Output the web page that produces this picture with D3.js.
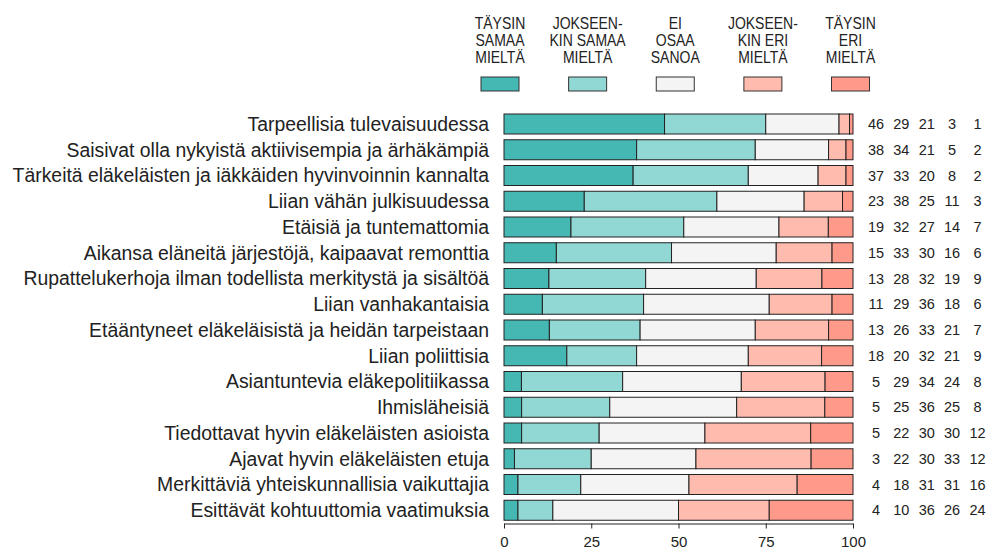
<!DOCTYPE html>
<html><head><meta charset="utf-8">
<script src="https://cdn.jsdelivr.net/npm/d3@7"></script>
<style>body{margin:0;background:#fff}svg{display:block}text{font-family:"Liberation Sans",Arial,sans-serif;fill:#222}</style>
</head><body>
<svg id="c" width="991" height="552"></svg>
<script>
const categories = [
 "Tarpeellisia tulevaisuudessa",
 "Saisivat olla nykyistä aktiivisempia ja ärhäkämpiä",
 "Tärkeitä eläkeläisten ja iäkkäiden hyvinvoinnin kannalta",
 "Liian vähän julkisuudessa",
 "Etäisiä ja tuntemattomia",
 "Aikansa eläneitä järjestöjä, kaipaavat remonttia",
 "Rupattelukerhoja ilman todellista merkitystä ja sisältöä",
 "Liian vanhakantaisia",
 "Etääntyneet eläkeläisistä ja heidän tarpeistaan",
 "Liian poliittisia",
 "Asiantuntevia eläkepolitiikassa",
 "Ihmisläheisiä",
 "Tiedottavat hyvin eläkeläisten asioista",
 "Ajavat hyvin eläkeläisten etuja",
 "Merkittäviä yhteiskunnallisia vaikuttajia",
 "Esittävät kohtuuttomia vaatimuksia"
];
const taysinSamaa   = [46,38,37,23,19,15,13,11,13,18,5,5,5,3,4,4];
const jokseenSamaa  = [29,34,33,38,32,33,28,29,26,20,29,25,22,22,18,10];
const eiOsaa        = [21,21,20,25,27,30,32,36,33,32,34,36,30,30,31,36];
const jokseenEri    = [3,5,8,11,14,16,19,18,21,21,24,25,30,33,31,26];
const taysinEri     = [1,2,2,3,7,6,9,6,7,9,8,8,12,12,16,24];
const series = [taysinSamaa, jokseenSamaa, eiOsaa, jokseenEri, taysinEri];
const legendLabels = [
 ["TÄYSIN","SAMAA","MIELTÄ"],
 ["JOKSEEN-","KIN SAMAA","MIELTÄ"],
 ["EI","OSAA","SANOA"],
 ["JOKSEEN-","KIN ERI","MIELTÄ"],
 ["TÄYSIN","ERI","MIELTÄ"]
];
const colors = ["#46b8b4","#91d7d3","#f4f4f4","#ffbbae","#ff998a"];
const ticks = [0,25,50,75,100];

const svg = d3.select("#c");
const x = d3.scaleLinear().domain([0,100]).range([504,853]);
const y = d3.scalePoint().domain(categories).range([124,510.25]);
const barH = 20;
const nx = d3.scalePoint().domain(d3.range(5)).range([876,977.5]);

categories.forEach((cat,i)=>{
  const vals = series.map(s=>s[i]);
  const total = d3.sum(vals);
  let cum = 0;
  const segs = vals.map((v,j)=>{ const s={x0:cum/total*100, x1:(cum+v)/total*100, j}; cum+=v; return s; });
  svg.append("g").selectAll("rect").data(segs).join("rect")
    .attr("x",d=>x(d.x0)).attr("width",d=>x(d.x1)-x(d.x0))
    .attr("y",y(cat)-barH/2).attr("height",barH)
    .attr("fill",d=>colors[d.j]).attr("stroke","#222").attr("stroke-width",1);
  svg.append("text").attr("x",489).attr("y",y(cat)).attr("dy","0.36em")
    .attr("text-anchor","end").style("font-size","19.4px").text(cat);
  svg.append("g").selectAll("text").data(vals).join("text")
    .attr("x",(d,j)=>nx(j)).attr("y",y(cat)).attr("dy","0.36em")
    .attr("text-anchor","middle").style("font-size","14.5px").text(d=>d);
});

const ax = svg.append("g").attr("transform","translate(0,523.5)")
  .call(d3.axisBottom(x).tickValues(ticks).tickSize(5).tickSizeOuter(0).tickPadding(8));
ax.select(".domain").attr("stroke","#222");
ax.selectAll(".tick line").attr("stroke","#222");
ax.selectAll(".tick text").style("font-size","15px").style("font-family","'Liberation Sans',Arial,sans-serif").attr("fill","#222");

const lx = d3.scalePoint().domain(d3.range(5)).range([500,850.5]);
const lg = svg.append("g").selectAll("g").data(legendLabels).join("g")
  .attr("transform",(d,i)=>`translate(${lx(i)},0)`);
lg.append("rect").attr("x",-19).attr("y",77).attr("width",38).attr("height",14)
  .attr("fill",(d,i)=>colors[i]).attr("stroke","#333").attr("stroke-width",1);
lg.each(function(lines){
  const g = d3.select(this);
  lines.forEach((t,k)=>{
    g.append("text").attr("x",0).attr("y",29.3+k*17)
      .attr("text-anchor","middle").attr("transform","scale(0.875,1)")
      .style("font-size","16px").text(t);
  });
});
</script>
</body></html>
